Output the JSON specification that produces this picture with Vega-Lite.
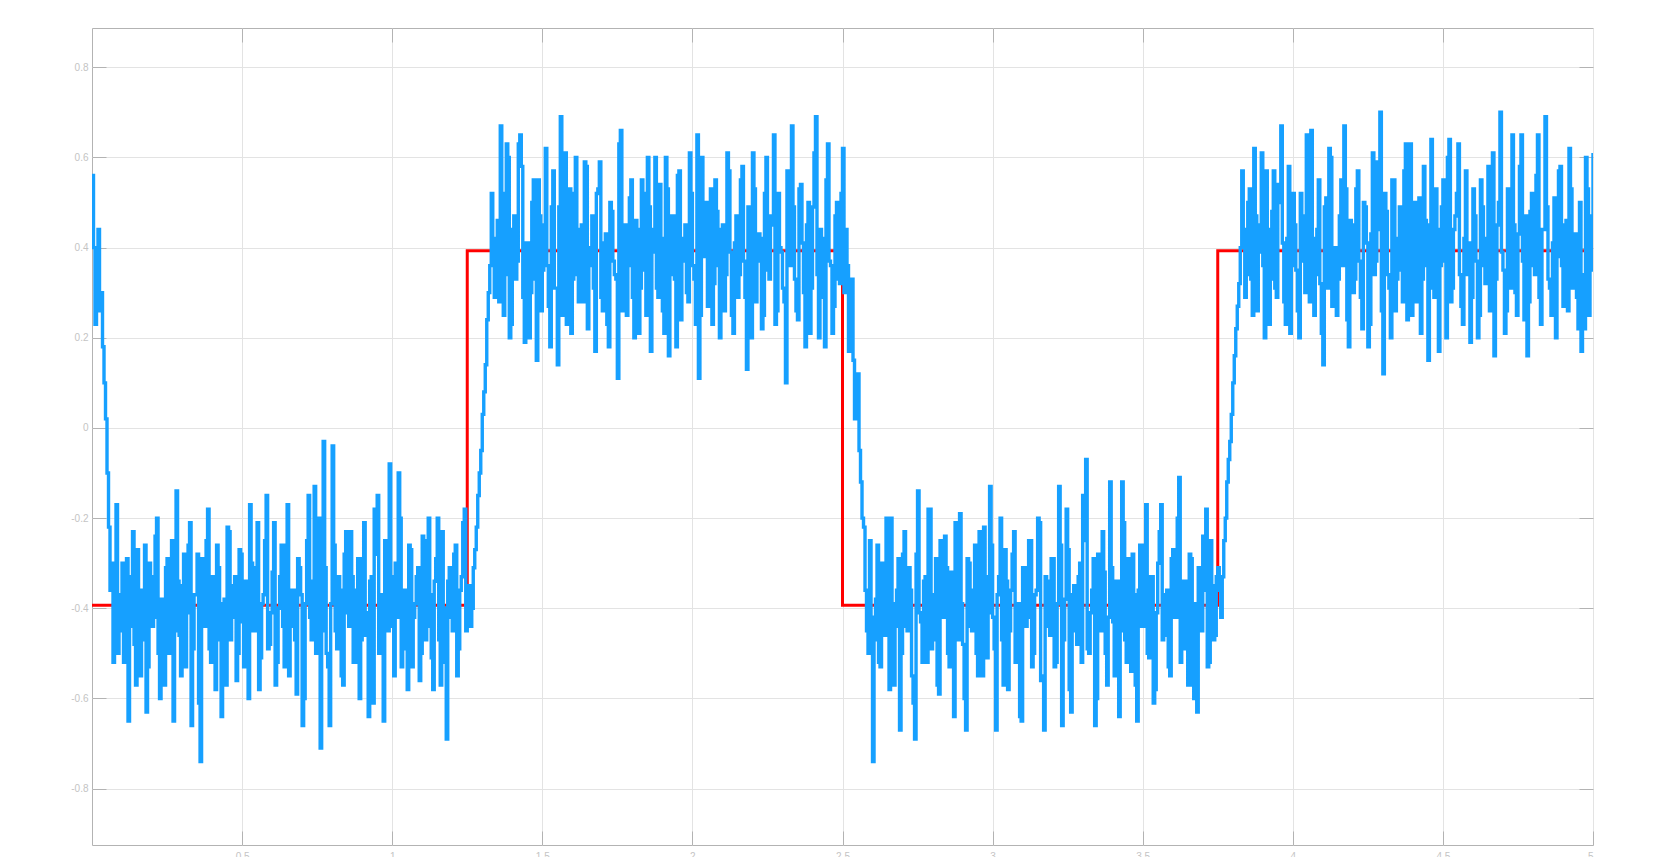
{
"$schema":"https://vega.github.io/schema/vega-lite/v6.json",
"width":1501,"height":817,
"autosize":"none",
"padding":{"left":92,"top":28,"right":66,"bottom":12},
"background":"white",
"config":{
 "locale":{"number":{"decimal":".","thousands":",","grouping":[3],"currency":["$",""],"minus":"-"}},
 "view":{"stroke":"#b3b3b3","strokeWidth":1},
 "axis":{"labelFont":"Liberation Sans","labelFontSize":10,"labelColor":"#c4c4c4","gridColor":"#e3e3e3","gridWidth":1,"tickColor":"#b3b3b3","tickSize":-14,"domain":false,"title":null}
},
"datasets":{
"red":[{"t":0,"v":-0.393},{"t":1.25,"v":0.393},{"t":2.5,"v":-0.393},{"t":3.75,"v":0.393},{"t":5,"v":0.393}],
"blue":[
{"t":0.00,"v":0.56},{"t":0.01,"v":0.23},{"t":0.02,"v":0.44},{"t":0.03,"v":0.30},{"t":0.04,"v":0.10},{"t":0.05,"v":-0.10},{"t":0.06,"v":-0.36},{"t":0.07,"v":-0.52},{"t":0.08,"v":-0.17},
{"t":0.09,"v":-0.45},{"t":0.10,"v":-0.30},{"t":0.11,"v":-0.52},{"t":0.12,"v":-0.65},{"t":0.13,"v":-0.33},{"t":0.14,"v":-0.48},{"t":0.15,"v":-0.27},{"t":0.16,"v":-0.55},{"t":0.17,"v":-0.36},{"t":0.18,"v":-0.63},{"t":0.19,"v":-0.30},
{"t":0.20,"v":-0.44},{"t":0.21,"v":-0.24},{"t":0.22,"v":-0.50},{"t":0.23,"v":-0.38},{"t":0.24,"v":-0.57},{"t":0.25,"v":-0.29},{"t":0.26,"v":-0.41},{"t":0.27,"v":-0.65},{"t":0.28,"v":-0.14},{"t":0.29,"v":-0.46},
{"t":0.30,"v":-0.35},{"t":0.31,"v":-0.53},{"t":0.32,"v":-0.26},{"t":0.33,"v":-0.66},{"t":0.34,"v":-0.37},{"t":0.35,"v":-0.28},{"t":0.36,"v":-0.74},{"t":0.37,"v":-0.40},{"t":0.38,"v":-0.25},{"t":0.39,"v":-0.49},
{"t":0.40,"v":-0.33},{"t":0.41,"v":-0.58},{"t":0.42,"v":-0.31},{"t":0.43,"v":-0.64},{"t":0.44,"v":-0.38},{"t":0.45,"v":-0.22},{"t":0.46,"v":-0.47},{"t":0.47,"v":-0.35},{"t":0.48,"v":-0.56},{"t":0.49,"v":-0.27},
{"t":0.50,"v":-0.43},{"t":0.51,"v":-0.34},{"t":0.52,"v":-0.60},{"t":0.53,"v":-0.30},{"t":0.54,"v":-0.45},{"t":0.55,"v":-0.21},{"t":0.56,"v":-0.51},{"t":0.57,"v":-0.37},{"t":0.58,"v":-0.15},{"t":0.59,"v":-0.48},
{"t":0.60,"v":-0.32},{"t":0.61,"v":-0.57},{"t":0.62,"v":-0.40},{"t":0.63,"v":-0.26},{"t":0.64,"v":-0.53},{"t":0.65,"v":-0.17},{"t":0.66,"v":-0.44},{"t":0.67,"v":-0.36},{"t":0.68,"v":-0.59},{"t":0.69,"v":-0.31},
{"t":0.70,"v":-0.66},{"t":0.71,"v":-0.39},{"t":0.72,"v":-0.15},{"t":0.73,"v":-0.47},{"t":0.74,"v":-0.13},{"t":0.75,"v":-0.42},{"t":0.76,"v":-0.71},{"t":0.77,"v":-0.03},{"t":0.78,"v":-0.50},{"t":0.79,"v":-0.66},
{"t":0.80,"v":-0.04},{"t":0.81,"v":-0.45},{"t":0.82,"v":-0.33},{"t":0.83,"v":-0.55},{"t":0.84,"v":-0.28},{"t":0.85,"v":-0.41},{"t":0.86,"v":-0.23},{"t":0.87,"v":-0.52},{"t":0.88,"v":-0.36},{"t":0.89,"v":-0.60},
{"t":0.90,"v":-0.29},{"t":0.91,"v":-0.46},{"t":0.92,"v":-0.64},{"t":0.93,"v":-0.33},{"t":0.94,"v":-0.18},{"t":0.95,"v":-0.15},{"t":0.96,"v":-0.49},{"t":0.97,"v":-0.65},{"t":0.98,"v":-0.37},{"t":0.99,"v":-0.08},
{"t":1.00,"v":-0.44},{"t":1.01,"v":-0.30},{"t":1.02,"v":-0.10},{"t":1.03,"v":-0.53},{"t":1.04,"v":-0.36},{"t":1.05,"v":-0.58},{"t":1.06,"v":-0.27},{"t":1.07,"v":-0.42},{"t":1.08,"v":-0.33},{"t":1.09,"v":-0.56},
{"t":1.10,"v":-0.24},{"t":1.11,"v":-0.47},{"t":1.12,"v":-0.20},{"t":1.13,"v":-0.51},{"t":1.14,"v":-0.34},{"t":1.15,"v":-0.20},{"t":1.16,"v":-0.57},{"t":1.17,"v":-0.40},{"t":1.18,"v":-0.69},{"t":1.19,"v":-0.31},
{"t":1.20,"v":-0.45},{"t":1.21,"v":-0.26},{"t":1.22,"v":-0.49},{"t":1.23,"v":-0.33},{"t":1.24,"v":-0.18},{"t":1.25,"v":-0.38},{"t":1.26,"v":-0.44},{"t":1.27,"v":-0.31},{"t":1.28,"v":-0.22},{"t":1.29,"v":-0.10},
{"t":1.30,"v":0.03},{"t":1.31,"v":0.14},{"t":1.32,"v":0.30},{"t":1.33,"v":0.52},{"t":1.34,"v":0.29},{"t":1.35,"v":0.46},{"t":1.36,"v":0.67},{"t":1.37,"v":0.25},{"t":1.38,"v":0.63},{"t":1.39,"v":0.20},
{"t":1.40,"v":0.44},{"t":1.41,"v":0.33},{"t":1.42,"v":0.63},{"t":1.43,"v":0.58},{"t":1.44,"v":0.19},{"t":1.45,"v":0.41},{"t":1.46,"v":0.30},{"t":1.47,"v":0.55},{"t":1.48,"v":0.15},{"t":1.49,"v":0.47},
{"t":1.50,"v":0.35},{"t":1.51,"v":0.62},{"t":1.52,"v":0.27},{"t":1.53,"v":0.49},{"t":1.54,"v":0.31},{"t":1.55,"v":0.14},{"t":1.56,"v":0.69},{"t":1.57,"v":0.36},{"t":1.58,"v":0.23},{"t":1.59,"v":0.53},
{"t":1.60,"v":0.33},{"t":1.61,"v":0.60},{"t":1.62,"v":0.28},{"t":1.63,"v":0.45},{"t":1.64,"v":0.59},{"t":1.65,"v":0.22},{"t":1.66,"v":0.40},{"t":1.67,"v":0.31},{"t":1.68,"v":0.52},{"t":1.69,"v":0.59},
{"t":1.70,"v":0.26},{"t":1.71,"v":0.43},{"t":1.72,"v":0.18},{"t":1.73,"v":0.48},{"t":1.74,"v":0.34},{"t":1.75,"v":0.11},{"t":1.76,"v":0.66},{"t":1.77,"v":0.37},{"t":1.78,"v":0.25},{"t":1.79,"v":0.51},
{"t":1.80,"v":0.29},{"t":1.81,"v":0.46},{"t":1.82,"v":0.21},{"t":1.83,"v":0.55},{"t":1.84,"v":0.35},{"t":1.85,"v":0.60},{"t":1.86,"v":0.17},{"t":1.87,"v":0.44},{"t":1.88,"v":0.31},{"t":1.89,"v":0.54},
{"t":1.90,"v":0.26},{"t":1.91,"v":0.60},{"t":1.92,"v":0.16},{"t":1.93,"v":0.47},{"t":1.94,"v":0.33},{"t":1.95,"v":0.56},{"t":1.96,"v":0.24},{"t":1.97,"v":0.42},{"t":1.98,"v":0.30},{"t":1.99,"v":0.61},
{"t":2.00,"v":0.36},{"t":2.01,"v":0.23},{"t":2.02,"v":0.11},{"t":2.03,"v":0.60},{"t":2.04,"v":0.38},{"t":2.05,"v":0.27},{"t":2.06,"v":0.53},{"t":2.07,"v":0.32},{"t":2.08,"v":0.48},{"t":2.09,"v":0.20},
{"t":2.10,"v":0.45},{"t":2.11,"v":0.34},{"t":2.12,"v":0.57},{"t":2.13,"v":0.25},{"t":2.14,"v":0.41},{"t":2.15,"v":0.29},{"t":2.16,"v":0.55},{"t":2.17,"v":0.37},{"t":2.18,"v":0.13},{"t":2.19,"v":0.49},
{"t":2.20,"v":0.61},{"t":2.21,"v":0.28},{"t":2.22,"v":0.43},{"t":2.23,"v":0.22},{"t":2.24,"v":0.52},{"t":2.25,"v":0.35},{"t":2.26,"v":0.47},{"t":2.27,"v":0.65},{"t":2.28,"v":0.26},{"t":2.29,"v":0.40},
{"t":2.30,"v":0.31},{"t":2.31,"v":0.10},{"t":2.32,"v":0.50},{"t":2.33,"v":0.67},{"t":2.34,"v":0.33},{"t":2.35,"v":0.24},{"t":2.36,"v":0.54},{"t":2.37,"v":0.30},{"t":2.38,"v":0.45},{"t":2.39,"v":0.21},
{"t":2.40,"v":0.49},{"t":2.41,"v":0.69},{"t":2.42,"v":0.20},{"t":2.43,"v":0.42},{"t":2.44,"v":0.18},{"t":2.45,"v":0.63},{"t":2.46,"v":0.36},{"t":2.47,"v":0.27},{"t":2.48,"v":0.50},{"t":2.49,"v":0.32},
{"t":2.50,"v":0.62},{"t":2.51,"v":0.44},{"t":2.52,"v":0.17},{"t":2.53,"v":0.33},{"t":2.54,"v":0.02},{"t":2.55,"v":0.12},{"t":2.56,"v":-0.12},{"t":2.57,"v":-0.22},{"t":2.58,"v":-0.45},{"t":2.59,"v":-0.25},
{"t":2.60,"v":-0.74},{"t":2.61,"v":-0.38},{"t":2.62,"v":-0.52},{"t":2.63,"v":-0.30},{"t":2.64,"v":-0.46},{"t":2.65,"v":-0.33},{"t":2.66,"v":-0.20},{"t":2.67,"v":-0.57},{"t":2.68,"v":-0.36},{"t":2.69,"v":-0.67},
{"t":2.70,"v":-0.28},{"t":2.71,"v":-0.44},{"t":2.72,"v":-0.31},{"t":2.73,"v":-0.55},{"t":2.74,"v":-0.69},{"t":2.75,"v":-0.14},{"t":2.76,"v":-0.43},{"t":2.77,"v":-0.34},{"t":2.78,"v":-0.52},{"t":2.79,"v":-0.18},
{"t":2.80,"v":-0.47},{"t":2.81,"v":-0.29},{"t":2.82,"v":-0.59},{"t":2.83,"v":-0.37},{"t":2.84,"v":-0.24},{"t":2.85,"v":-0.50},{"t":2.86,"v":-0.32},{"t":2.87,"v":-0.64},{"t":2.88,"v":-0.41},{"t":2.89,"v":-0.19},
{"t":2.90,"v":-0.48},{"t":2.91,"v":-0.67},{"t":2.92,"v":-0.30},{"t":2.93,"v":-0.45},{"t":2.94,"v":-0.26},{"t":2.95,"v":-0.55},{"t":2.96,"v":-0.35},{"t":2.97,"v":-0.22},{"t":2.98,"v":-0.51},{"t":2.99,"v":-0.13},
{"t":3.00,"v":-0.42},{"t":3.01,"v":-0.67},{"t":3.02,"v":-0.33},{"t":3.03,"v":-0.47},{"t":3.04,"v":-0.27},{"t":3.05,"v":-0.58},{"t":3.06,"v":-0.36},{"t":3.07,"v":-0.23},{"t":3.08,"v":-0.49},{"t":3.09,"v":-0.64},
{"t":3.10,"v":-0.31},{"t":3.11,"v":-0.44},{"t":3.12,"v":-0.25},{"t":3.13,"v":-0.53},{"t":3.14,"v":-0.37},{"t":3.15,"v":-0.20},{"t":3.16,"v":-0.56},{"t":3.17,"v":-0.67},{"t":3.18,"v":-0.34},{"t":3.19,"v":-0.46},
{"t":3.20,"v":-0.29},{"t":3.21,"v":-0.52},{"t":3.22,"v":-0.13},{"t":3.23,"v":-0.66},{"t":3.24,"v":-0.38},{"t":3.25,"v":-0.27},{"t":3.26,"v":-0.63},{"t":3.27,"v":-0.35},{"t":3.28,"v":-0.48},{"t":3.29,"v":-0.30},
{"t":3.30,"v":-0.15},{"t":3.31,"v":-0.07},{"t":3.32,"v":-0.50},{"t":3.33,"v":-0.36},{"t":3.34,"v":-0.66},{"t":3.35,"v":-0.28},{"t":3.36,"v":-0.45},{"t":3.37,"v":-0.32},{"t":3.38,"v":-0.57},{"t":3.39,"v":-0.12},
{"t":3.40,"v":-0.43},{"t":3.41,"v":-0.34},{"t":3.42,"v":-0.64},{"t":3.43,"v":-0.12},{"t":3.44,"v":-0.47},{"t":3.45,"v":-0.29},{"t":3.46,"v":-0.54},{"t":3.47,"v":-0.37},{"t":3.48,"v":-0.65},{"t":3.49,"v":-0.26},
{"t":3.50,"v":-0.44},{"t":3.51,"v":-0.17},{"t":3.52,"v":-0.51},{"t":3.53,"v":-0.33},{"t":3.54,"v":-0.58},{"t":3.55,"v":-0.30},{"t":3.56,"v":-0.17},{"t":3.57,"v":-0.46},{"t":3.58,"v":-0.36},{"t":3.59,"v":-0.55},
{"t":3.60,"v":-0.27},{"t":3.61,"v":-0.42},{"t":3.62,"v":-0.11},{"t":3.63,"v":-0.49},{"t":3.64,"v":-0.34},{"t":3.65,"v":-0.57},{"t":3.66,"v":-0.29},{"t":3.67,"v":-0.60},{"t":3.68,"v":-0.63},{"t":3.69,"v":-0.38},
{"t":3.70,"v":-0.24},{"t":3.71,"v":-0.18},{"t":3.72,"v":-0.52},{"t":3.73,"v":-0.35},{"t":3.74,"v":-0.46},{"t":3.75,"v":-0.31},{"t":3.76,"v":-0.42},{"t":3.77,"v":-0.25},{"t":3.78,"v":-0.12},{"t":3.79,"v":-0.03},
{"t":3.80,"v":0.10},{"t":3.81,"v":0.22},{"t":3.82,"v":0.32},{"t":3.83,"v":0.57},{"t":3.84,"v":0.29},{"t":3.85,"v":0.50},{"t":3.86,"v":0.33},{"t":3.87,"v":0.62},{"t":3.88,"v":0.26},{"t":3.89,"v":0.45},
{"t":3.90,"v":0.36},{"t":3.91,"v":0.57},{"t":3.92,"v":0.23},{"t":3.93,"v":0.48},{"t":3.94,"v":0.31},{"t":3.95,"v":0.54},{"t":3.96,"v":0.67},{"t":3.97,"v":0.28},{"t":3.98,"v":0.42},{"t":3.99,"v":0.21},
{"t":4.00,"v":0.52},{"t":4.01,"v":0.35},{"t":4.02,"v":0.20},{"t":4.03,"v":0.47},{"t":4.04,"v":0.30},{"t":4.05,"v":0.58},{"t":4.06,"v":0.66},{"t":4.07,"v":0.25},{"t":4.08,"v":0.44},{"t":4.09,"v":0.32},
{"t":4.10,"v":0.14},{"t":4.11,"v":0.51},{"t":4.12,"v":0.62},{"t":4.13,"v":0.27},{"t":4.14,"v":0.40},{"t":4.15,"v":0.33},{"t":4.16,"v":0.55},{"t":4.17,"v":0.67},{"t":4.18,"v":0.24},{"t":4.19,"v":0.46},
{"t":4.20,"v":0.30},{"t":4.21,"v":0.53},{"t":4.22,"v":0.37},{"t":4.23,"v":0.22},{"t":4.24,"v":0.49},{"t":4.25,"v":0.18},{"t":4.26,"v":0.43},{"t":4.27,"v":0.34},{"t":4.28,"v":0.59},{"t":4.29,"v":0.70},
{"t":4.30,"v":0.12},{"t":4.31,"v":0.48},{"t":4.32,"v":0.31},{"t":4.33,"v":0.55},{"t":4.34,"v":0.26},{"t":4.35,"v":0.42},{"t":4.36,"v":0.35},{"t":4.37,"v":0.57},{"t":4.38,"v":0.24},{"t":4.39,"v":0.63},
{"t":4.40,"v":0.38},{"t":4.41,"v":0.28},{"t":4.42,"v":0.51},{"t":4.43,"v":0.33},{"t":4.44,"v":0.46},{"t":4.45,"v":0.15},{"t":4.46,"v":0.64},{"t":4.47,"v":0.29},{"t":4.48,"v":0.44},{"t":4.49,"v":0.36},
{"t":4.50,"v":0.55},{"t":4.51,"v":0.20},{"t":4.52,"v":0.64},{"t":4.53,"v":0.31},{"t":4.54,"v":0.47},{"t":4.55,"v":0.63},{"t":4.56,"v":0.27},{"t":4.57,"v":0.42},{"t":4.58,"v":0.34},{"t":4.59,"v":0.19},
{"t":4.60,"v":0.53},{"t":4.61,"v":0.37},{"t":4.62,"v":0.25},{"t":4.63,"v":0.49},{"t":4.64,"v":0.32},{"t":4.65,"v":0.58},{"t":4.66,"v":0.28},{"t":4.67,"v":0.16},{"t":4.68,"v":0.45},{"t":4.69,"v":0.70},
{"t":4.70,"v":0.35},{"t":4.71,"v":0.26},{"t":4.72,"v":0.52},{"t":4.73,"v":0.65},{"t":4.74,"v":0.30},{"t":4.75,"v":0.43},{"t":4.76,"v":0.65},{"t":4.77,"v":0.24},{"t":4.78,"v":0.16},{"t":4.79,"v":0.48},
{"t":4.80,"v":0.36},{"t":4.81,"v":0.56},{"t":4.82,"v":0.29},{"t":4.83,"v":0.44},{"t":4.84,"v":0.69},{"t":4.85,"v":0.33},{"t":4.86,"v":0.25},{"t":4.87,"v":0.51},{"t":4.88,"v":0.38},{"t":4.89,"v":0.58},
{"t":4.90,"v":0.27},{"t":4.91,"v":0.46},{"t":4.92,"v":0.62},{"t":4.93,"v":0.31},{"t":4.94,"v":0.43},{"t":4.95,"v":0.22},{"t":4.96,"v":0.17},{"t":4.97,"v":0.22},{"t":4.98,"v":0.53},{"t":4.99,"v":0.35},
{"t":5.00,"v":0.61},
{"t":0.005,"v":0.40},{"t":0.015,"v":0.35},{"t":0.025,"v":0.26},{"t":0.035,"v":0.18},{"t":0.045,"v":0.02},{"t":0.055,"v":-0.22},{"t":0.065,"v":-0.30},{"t":0.075,"v":-0.40},{"t":0.085,"v":-0.50},
{"t":0.095,"v":-0.37},{"t":0.105,"v":-0.52},{"t":0.115,"v":-0.29},{"t":0.125,"v":-0.44},{"t":0.135,"v":-0.23},{"t":0.145,"v":-0.57},{"t":0.155,"v":-0.36},{"t":0.165,"v":-0.47},{"t":0.175,"v":-0.26},{"t":0.185,"v":-0.53},
{"t":0.195,"v":-0.33},{"t":0.205,"v":-0.42},{"t":0.215,"v":-0.20},{"t":0.225,"v":-0.60},{"t":0.235,"v":-0.39},{"t":0.245,"v":-0.31},{"t":0.255,"v":-0.50},{"t":0.265,"v":-0.25},{"t":0.275,"v":-0.45},{"t":0.285,"v":-0.34},
{"t":0.295,"v":-0.55},{"t":0.305,"v":-0.28},{"t":0.315,"v":-0.41},{"t":0.325,"v":-0.21},{"t":0.335,"v":-0.49},{"t":0.345,"v":-0.37},{"t":0.355,"v":-0.61},{"t":0.365,"v":-0.29},{"t":0.375,"v":-0.44},{"t":0.385,"v":-0.18},
{"t":0.395,"v":-0.52},{"t":0.405,"v":-0.34},{"t":0.415,"v":-0.26},{"t":0.425,"v":-0.47},{"t":0.435,"v":-0.39},{"t":0.445,"v":-0.57},{"t":0.455,"v":-0.23},{"t":0.465,"v":-0.42},{"t":0.475,"v":-0.33},{"t":0.485,"v":-0.50},
{"t":0.495,"v":-0.28},{"t":0.505,"v":-0.53},{"t":0.515,"v":-0.36},{"t":0.525,"v":-0.17},{"t":0.535,"v":-0.45},{"t":0.545,"v":-0.31},{"t":0.555,"v":-0.58},{"t":0.565,"v":-0.39},{"t":0.575,"v":-0.25},{"t":0.585,"v":-0.49},
{"t":0.595,"v":-0.41},{"t":0.605,"v":-0.21},{"t":0.615,"v":-0.52},{"t":0.625,"v":-0.33},{"t":0.635,"v":-0.44},{"t":0.645,"v":-0.26},{"t":0.655,"v":-0.55},{"t":0.665,"v":-0.36},{"t":0.675,"v":-0.47},{"t":0.685,"v":-0.29},
{"t":0.695,"v":-0.37},{"t":0.705,"v":-0.60},{"t":0.715,"v":-0.25},{"t":0.725,"v":-0.42},{"t":0.735,"v":-0.34},{"t":0.745,"v":-0.50},{"t":0.755,"v":-0.20},{"t":0.765,"v":-0.45},{"t":0.775,"v":-0.31},{"t":0.785,"v":-0.53},
{"t":0.795,"v":-0.39},{"t":0.805,"v":-0.26},{"t":0.815,"v":-0.49},{"t":0.825,"v":-0.36},{"t":0.835,"v":-0.57},{"t":0.845,"v":-0.23},{"t":0.855,"v":-0.44},{"t":0.865,"v":-0.33},{"t":0.875,"v":-0.52},{"t":0.885,"v":-0.29},
{"t":0.895,"v":-0.47},{"t":0.905,"v":-0.21},{"t":0.915,"v":-0.41},{"t":0.925,"v":-0.34},{"t":0.935,"v":-0.61},{"t":0.945,"v":-0.28},{"t":0.955,"v":-0.50},{"t":0.965,"v":-0.37},{"t":0.975,"v":-0.25},{"t":0.985,"v":-0.45},
{"t":0.995,"v":-0.33},{"t":1.005,"v":-0.55},{"t":1.015,"v":-0.42},{"t":1.025,"v":-0.20},{"t":1.035,"v":-0.49},{"t":1.045,"v":-0.36},{"t":1.055,"v":-0.26},{"t":1.065,"v":-0.53},{"t":1.075,"v":-0.39},{"t":1.085,"v":-0.31},
{"t":1.095,"v":-0.50},{"t":1.105,"v":-0.25},{"t":1.115,"v":-0.44},{"t":1.125,"v":-0.37},{"t":1.135,"v":-0.58},{"t":1.145,"v":-0.29},{"t":1.155,"v":-0.47},{"t":1.165,"v":-0.23},{"t":1.175,"v":-0.52},{"t":1.185,"v":-0.34},
{"t":1.195,"v":-0.42},{"t":1.205,"v":-0.28},{"t":1.215,"v":-0.55},{"t":1.225,"v":-0.36},{"t":1.235,"v":-0.21},{"t":1.245,"v":-0.45},
{"t":1.255,"v":-0.35},{"t":1.265,"v":-0.40},{"t":1.275,"v":-0.27},{"t":1.285,"v":-0.15},{"t":1.295,"v":-0.05},{"t":1.305,"v":0.08},{"t":1.315,"v":0.24},{"t":1.325,"v":0.36},{"t":1.335,"v":0.40},
{"t":1.345,"v":0.42},{"t":1.355,"v":0.28},{"t":1.365,"v":0.52},{"t":1.375,"v":0.34},{"t":1.385,"v":0.60},{"t":1.395,"v":0.23},{"t":1.405,"v":0.47},{"t":1.415,"v":0.37},{"t":1.425,"v":0.65},{"t":1.435,"v":0.29},
{"t":1.445,"v":0.41},{"t":1.455,"v":0.20},{"t":1.465,"v":0.50},{"t":1.475,"v":0.33},{"t":1.485,"v":0.55},{"t":1.495,"v":0.26},{"t":1.505,"v":0.45},{"t":1.515,"v":0.36},{"t":1.525,"v":0.18},{"t":1.535,"v":0.57},
{"t":1.545,"v":0.31},{"t":1.555,"v":0.49},{"t":1.565,"v":0.25},{"t":1.575,"v":0.61},{"t":1.585,"v":0.39},{"t":1.595,"v":0.21},{"t":1.605,"v":0.52},{"t":1.615,"v":0.34},{"t":1.625,"v":0.44},{"t":1.635,"v":0.28},
{"t":1.645,"v":0.58},{"t":1.655,"v":0.36},{"t":1.665,"v":0.47},{"t":1.675,"v":0.17},{"t":1.685,"v":0.53},{"t":1.695,"v":0.29},{"t":1.705,"v":0.41},{"t":1.715,"v":0.23},{"t":1.725,"v":0.50},{"t":1.735,"v":0.37},
{"t":1.745,"v":0.33},{"t":1.755,"v":0.63},{"t":1.765,"v":0.26},{"t":1.775,"v":0.45},{"t":1.785,"v":0.36},{"t":1.795,"v":0.55},{"t":1.805,"v":0.20},{"t":1.815,"v":0.44},{"t":1.825,"v":0.31},{"t":1.835,"v":0.52},
{"t":1.845,"v":0.25},{"t":1.855,"v":0.49},{"t":1.865,"v":0.39},{"t":1.875,"v":0.60},{"t":1.885,"v":0.29},{"t":1.895,"v":0.42},{"t":1.905,"v":0.21},{"t":1.915,"v":0.53},{"t":1.925,"v":0.34},{"t":1.935,"v":0.47},
{"t":1.945,"v":0.18},{"t":1.955,"v":0.57},{"t":1.965,"v":0.37},{"t":1.975,"v":0.45},{"t":1.985,"v":0.28},{"t":1.995,"v":0.52},{"t":2.005,"v":0.33},{"t":2.015,"v":0.65},{"t":2.025,"v":0.25},{"t":2.035,"v":0.41},
{"t":2.045,"v":0.50},{"t":2.055,"v":0.31},{"t":2.065,"v":0.23},{"t":2.075,"v":0.55},{"t":2.085,"v":0.36},{"t":2.095,"v":0.44},{"t":2.105,"v":0.26},{"t":2.115,"v":0.61},{"t":2.125,"v":0.39},{"t":2.135,"v":0.21},
{"t":2.145,"v":0.47},{"t":2.155,"v":0.34},{"t":2.165,"v":0.58},{"t":2.175,"v":0.29},{"t":2.185,"v":0.49},{"t":2.195,"v":0.20},{"t":2.205,"v":0.53},{"t":2.215,"v":0.37},{"t":2.225,"v":0.42},{"t":2.235,"v":0.25},
{"t":2.245,"v":0.60},{"t":2.255,"v":0.33},{"t":2.265,"v":0.45},{"t":2.275,"v":0.23},{"t":2.285,"v":0.52},{"t":2.295,"v":0.39},{"t":2.305,"v":0.28},{"t":2.315,"v":0.57},{"t":2.325,"v":0.36},{"t":2.335,"v":0.49},
{"t":2.345,"v":0.26},{"t":2.355,"v":0.53},{"t":2.365,"v":0.41},{"t":2.375,"v":0.18},{"t":2.385,"v":0.50},{"t":2.395,"v":0.31},{"t":2.405,"v":0.61},{"t":2.415,"v":0.34},{"t":2.425,"v":0.44},{"t":2.435,"v":0.29},
{"t":2.445,"v":0.55},{"t":2.455,"v":0.37},{"t":2.465,"v":0.21},{"t":2.475,"v":0.47},{"t":2.485,"v":0.33},{"t":2.495,"v":0.52},
{"t":2.505,"v":0.30},{"t":2.515,"v":0.36},{"t":2.525,"v":0.22},{"t":2.535,"v":0.15},{"t":2.545,"v":0.05},{"t":2.555,"v":-0.05},{"t":2.565,"v":-0.20},{"t":2.575,"v":-0.36},{"t":2.585,"v":-0.50},{"t":2.595,"v":-0.42},
{"t":2.605,"v":-0.47},{"t":2.615,"v":-0.26},{"t":2.625,"v":-0.53},{"t":2.635,"v":-0.34},{"t":2.645,"v":-0.20},{"t":2.655,"v":-0.58},{"t":2.665,"v":-0.39},{"t":2.675,"v":-0.44},{"t":2.685,"v":-0.29},{"t":2.695,"v":-0.50},
{"t":2.705,"v":-0.23},{"t":2.715,"v":-0.45},{"t":2.725,"v":-0.36},{"t":2.735,"v":-0.61},{"t":2.745,"v":-0.28},{"t":2.755,"v":-0.41},{"t":2.765,"v":-0.52},{"t":2.775,"v":-0.33},{"t":2.785,"v":-0.18},{"t":2.795,"v":-0.49},
{"t":2.805,"v":-0.37},{"t":2.815,"v":-0.57},{"t":2.825,"v":-0.25},{"t":2.835,"v":-0.42},{"t":2.845,"v":-0.31},{"t":2.855,"v":-0.53},{"t":2.865,"v":-0.34},{"t":2.875,"v":-0.21},{"t":2.885,"v":-0.47},{"t":2.895,"v":-0.39},
{"t":2.905,"v":-0.60},{"t":2.915,"v":-0.29},{"t":2.925,"v":-0.44},{"t":2.935,"v":-0.36},{"t":2.945,"v":-0.50},{"t":2.955,"v":-0.23},{"t":2.965,"v":-0.55},{"t":2.975,"v":-0.33},{"t":2.985,"v":-0.41},{"t":2.995,"v":-0.26},
{"t":3.005,"v":-0.49},{"t":3.015,"v":-0.37},{"t":3.025,"v":-0.20},{"t":3.035,"v":-0.57},{"t":3.045,"v":-0.34},{"t":3.055,"v":-0.45},{"t":3.065,"v":-0.28},{"t":3.075,"v":-0.52},{"t":3.085,"v":-0.39},{"t":3.095,"v":-0.65},
{"t":3.105,"v":-0.31},{"t":3.115,"v":-0.42},{"t":3.125,"v":-0.25},{"t":3.135,"v":-0.50},{"t":3.145,"v":-0.36},{"t":3.155,"v":-0.21},{"t":3.165,"v":-0.55},{"t":3.175,"v":-0.33},{"t":3.185,"v":-0.44},{"t":3.195,"v":-0.29},
{"t":3.205,"v":-0.53},{"t":3.215,"v":-0.39},{"t":3.225,"v":-0.26},{"t":3.235,"v":-0.47},{"t":3.245,"v":-0.18},{"t":3.255,"v":-0.58},{"t":3.265,"v":-0.37},{"t":3.275,"v":-0.45},{"t":3.285,"v":-0.33},{"t":3.295,"v":-0.52},
{"t":3.305,"v":-0.25},{"t":3.315,"v":-0.49},{"t":3.325,"v":-0.41},{"t":3.335,"v":-0.29},{"t":3.345,"v":-0.60},{"t":3.355,"v":-0.36},{"t":3.365,"v":-0.23},{"t":3.375,"v":-0.50},{"t":3.385,"v":-0.42},{"t":3.395,"v":-0.31},
{"t":3.405,"v":-0.55},{"t":3.415,"v":-0.34},{"t":3.425,"v":-0.45},{"t":3.435,"v":-0.21},{"t":3.445,"v":-0.52},{"t":3.455,"v":-0.39},{"t":3.465,"v":-0.28},{"t":3.475,"v":-0.57},{"t":3.485,"v":-0.36},{"t":3.495,"v":-0.44},
{"t":3.505,"v":-0.26},{"t":3.515,"v":-0.50},{"t":3.525,"v":-0.33},{"t":3.535,"v":-0.61},{"t":3.545,"v":-0.41},{"t":3.555,"v":-0.23},{"t":3.565,"v":-0.47},{"t":3.575,"v":-0.37},{"t":3.585,"v":-0.53},{"t":3.595,"v":-0.29},
{"t":3.605,"v":-0.42},{"t":3.615,"v":-0.20},{"t":3.625,"v":-0.52},{"t":3.635,"v":-0.34},{"t":3.645,"v":-0.49},{"t":3.655,"v":-0.28},{"t":3.665,"v":-0.57},{"t":3.675,"v":-0.39},{"t":3.685,"v":-0.31},{"t":3.695,"v":-0.45},
{"t":3.705,"v":-0.36},{"t":3.715,"v":-0.53},{"t":3.725,"v":-0.25},{"t":3.735,"v":-0.47},{"t":3.745,"v":-0.33},
{"t":3.755,"v":-0.36},{"t":3.765,"v":-0.33},{"t":3.775,"v":-0.20},{"t":3.785,"v":-0.07},{"t":3.795,"v":0.03},{"t":3.805,"v":0.16},{"t":3.815,"v":0.27},{"t":3.825,"v":0.40},{"t":3.835,"v":0.44},
{"t":3.845,"v":0.34},{"t":3.855,"v":0.53},{"t":3.865,"v":0.25},{"t":3.875,"v":0.47},{"t":3.885,"v":0.39},{"t":3.895,"v":0.61},{"t":3.905,"v":0.20},{"t":3.915,"v":0.44},{"t":3.925,"v":0.33},{"t":3.935,"v":0.57},
{"t":3.945,"v":0.29},{"t":3.955,"v":0.50},{"t":3.965,"v":0.41},{"t":3.975,"v":0.23},{"t":3.985,"v":0.58},{"t":3.995,"v":0.36},{"t":4.005,"v":0.45},{"t":4.015,"v":0.26},{"t":4.025,"v":0.52},{"t":4.035,"v":0.37},
{"t":4.045,"v":0.65},{"t":4.055,"v":0.28},{"t":4.065,"v":0.42},{"t":4.075,"v":0.34},{"t":4.085,"v":0.55},{"t":4.095,"v":0.21},{"t":4.105,"v":0.49},{"t":4.115,"v":0.31},{"t":4.125,"v":0.60},{"t":4.135,"v":0.39},
{"t":4.145,"v":0.25},{"t":4.155,"v":0.47},{"t":4.165,"v":0.36},{"t":4.175,"v":0.53},{"t":4.185,"v":0.18},{"t":4.195,"v":0.45},{"t":4.205,"v":0.33},{"t":4.215,"v":0.57},{"t":4.225,"v":0.29},{"t":4.235,"v":0.50},
{"t":4.245,"v":0.41},{"t":4.255,"v":0.23},{"t":4.265,"v":0.61},{"t":4.275,"v":0.37},{"t":4.285,"v":0.44},{"t":4.295,"v":0.26},{"t":4.305,"v":0.52},{"t":4.315,"v":0.34},{"t":4.325,"v":0.20},{"t":4.335,"v":0.55},
{"t":4.345,"v":0.33},{"t":4.355,"v":0.49},{"t":4.365,"v":0.28},{"t":4.375,"v":0.63},{"t":4.385,"v":0.39},{"t":4.395,"v":0.25},{"t":4.405,"v":0.50},{"t":4.415,"v":0.42},{"t":4.425,"v":0.21},{"t":4.435,"v":0.58},
{"t":4.445,"v":0.36},{"t":4.455,"v":0.45},{"t":4.465,"v":0.31},{"t":4.475,"v":0.53},{"t":4.485,"v":0.17},{"t":4.495,"v":0.49},{"t":4.505,"v":0.37},{"t":4.515,"v":0.60},{"t":4.525,"v":0.28},{"t":4.535,"v":0.44},
{"t":4.545,"v":0.52},{"t":4.555,"v":0.34},{"t":4.565,"v":0.23},{"t":4.575,"v":0.57},{"t":4.585,"v":0.41},{"t":4.595,"v":0.29},{"t":4.605,"v":0.47},{"t":4.615,"v":0.20},{"t":4.625,"v":0.55},{"t":4.635,"v":0.36},
{"t":4.645,"v":0.42},{"t":4.655,"v":0.26},{"t":4.665,"v":0.61},{"t":4.675,"v":0.33},{"t":4.685,"v":0.50},{"t":4.695,"v":0.39},{"t":4.705,"v":0.21},{"t":4.715,"v":0.53},{"t":4.725,"v":0.31},{"t":4.735,"v":0.45},
{"t":4.745,"v":0.25},{"t":4.755,"v":0.58},{"t":4.765,"v":0.37},{"t":4.775,"v":0.47},{"t":4.785,"v":0.28},{"t":4.795,"v":0.52},{"t":4.805,"v":0.34},{"t":4.815,"v":0.65},{"t":4.825,"v":0.23},{"t":4.835,"v":0.44},
{"t":4.845,"v":0.49},{"t":4.855,"v":0.31},{"t":4.865,"v":0.41},{"t":4.875,"v":0.20},{"t":4.885,"v":0.57},{"t":4.895,"v":0.36},{"t":4.905,"v":0.45},{"t":4.915,"v":0.26},{"t":4.925,"v":0.53},{"t":4.935,"v":0.39},
{"t":4.945,"v":0.29},{"t":4.955,"v":0.50},{"t":4.965,"v":0.34},{"t":4.975,"v":0.60},{"t":4.985,"v":0.25},{"t":4.995,"v":0.47}
]},
"layer":[
 {"data":{"name":"red"},
  "mark":{"type":"line","color":"#ff0000","strokeWidth":3,"interpolate":"step-after","clip":true},
  "encoding":{
   "x":{"field":"t","type":"quantitative","scale":{"domain":[0,5],"nice":false,"zero":false},
        "axis":{"orient":"bottom","values":[0.5,1,1.5,2,2.5,3,3.5,4,4.5,5],"format":"~g","labelPadding":20,"grid":true,"labelBaseline":"top"}},
   "y":{"field":"v","type":"quantitative","scale":{"domain":[-0.925,0.887],"nice":false,"zero":false},
        "axis":{"orient":"left","values":[-0.8,-0.6,-0.4,-0.2,0,0.2,0.4,0.6,0.8],"format":"~g","labelPadding":18,"grid":true}}
  }},
 {"data":{"name":"blue"},
  "mark":{"type":"line","color":"#16a0ff","strokeWidth":3.4,"interpolate":"step-after","clip":true},
  "encoding":{
   "x":{"field":"t","type":"quantitative","axis":{"orient":"top","values":[0.5,1,1.5,2,2.5,3,3.5,4,4.5],"labels":false,"grid":false}},
   "y":{"field":"v","type":"quantitative","axis":{"orient":"right","values":[-0.8,-0.6,-0.4,-0.2,0,0.2,0.4,0.6,0.8],"labels":false,"grid":false}}
  }}
],
"resolve":{"axis":{"x":"independent","y":"independent"}}
}
